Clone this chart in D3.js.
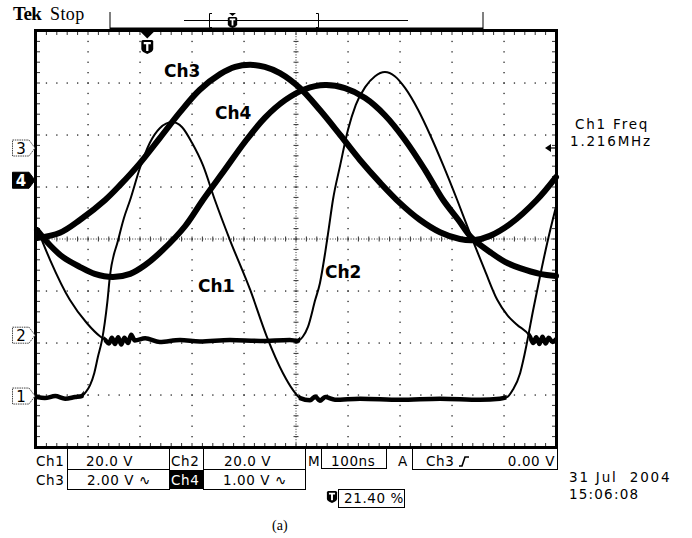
<!DOCTYPE html>
<html>
<head>
<meta charset="utf-8">
<script src="https://cdn.jsdelivr.net/npm/d3@7"></script>
<style>
    body { margin: 0; background: #fff; }
    svg text { font-family: 'DejaVu Sans', sans-serif; fill: #000; }
</style>
</head>
<body>
<svg id="scope"></svg>
<script>

/*
*   Screen settings (time in ns, level in screen divisions)
*/

const TIME_PER_DIV = 100
const H_DIVS = 10
const V_DIVS = 8
const TRIGGER_PERCENT = 21.40

/*
*   Traces: [time ns, level div]
*/

const CH1_TRACE = [
    [2, -3.04], [17, -3.06], [37, -3.02], [56, -3.07], [75, -3.04], [88, -3.02],
    [96, -2.94], [104, -2.81], [112, -2.58], [119, -2.27], [127, -1.94], [137, -1.23], [142, -0.73],
    [158, -0.02], [169, 0.40], [181, 0.75], [200, 1.37], [219, 1.85], [238, 2.13], [262, 2.25],
    [281, 2.15], [300, 1.85], [321, 1.42], [344, 0.75], [373, -0.02], [412, -0.98], [444, -1.88],
    [475, -2.58], [494, -2.90], [508, -3.06],
    [527, -3.10], [537, -3.03], [546, -3.11], [556, -3.04], [575, -3.09], [623, -3.07], [700, -3.09],
    [777, -3.07], [854, -3.09], [892, -3.07],
    [906, -3.04], [917, -2.90], [931, -2.58], [938, -2.29], [944, -2.00], [956, -1.37], [969, -0.73],
    [983, -0.08], [1000, 0.62],
]

const CH2_TRACE = [
    [2, 0.21], [27, -0.40], [65, -1.17], [98, -1.62], [123, -1.87], [133, -1.94],
    [140, -2.01], [146, -1.90], [152, -2.02], [158, -1.89], [164, -2.03], [170, -1.90], [177, -2.00],
    [183, -1.84], [190, -1.95], [210, -1.91], [238, -1.98], [277, -1.94], [315, -1.97], [373, -1.94],
    [431, -1.96], [488, -1.94], [502, -1.96],
    [513, -1.88], [523, -1.69], [537, -1.17], [546, -0.85], [556, -0.27], [563, 0.20], [571, 0.75],
    [585, 1.42], [600, 2.10], [615, 2.58], [633, 2.92], [652, 3.13], [671, 3.21], [690, 3.13],
    [710, 2.90], [735, 2.48], [758, 2.00], [783, 1.42], [810, 0.75], [838, 0.02], [863, -0.60],
    [887, -1.17], [906, -1.46], [925, -1.65], [950, -1.88],
    [956, -2.00], [962, -1.89], [968, -2.02], [974, -1.88], [980, -2.01], [986, -1.90], [993, -1.98],
    [1000, -1.93],
]

const CH3_TRACE = [
    [2, 0.02], [46, 0.12], [85, 0.37], [133, 0.75], [162, 1.04], [200, 1.46], [238, 1.94],
    [277, 2.44], [315, 2.87], [354, 3.17], [383, 3.31], [412, 3.35], [440, 3.31], [469, 3.19],
    [508, 2.90], [546, 2.48], [585, 2.00], [623, 1.52], [662, 1.08], [700, 0.69], [738, 0.37],
    [777, 0.13], [815, 0.00], [844, -0.02], [873, 0.06], [912, 0.29], [963, 0.75], [1000, 1.19],
]

const CH4_TRACE = [
    [2, 0.17], [27, -0.12], [52, -0.35], [85, -0.54], [113, -0.67], [148, -0.73], [181, -0.67],
    [210, -0.50], [244, -0.21], [287, 0.25], [321, 0.75], [363, 1.33], [402, 1.87], [440, 2.33],
    [479, 2.67], [517, 2.88], [556, 2.96], [594, 2.90], [633, 2.71], [671, 2.38], [710, 1.90],
    [748, 1.33], [783, 0.75], [812, 0.37], [838, 0.02], [873, -0.25], [902, -0.44], [931, -0.56],
    [969, -0.67], [1000, -0.71],
]

/*
*   Noisy flat stretches of the thin traces, [from ns, to ns]
*/

const CH1_FLAT = [[0, 92], [505, 905]]
const CH2_FLAT = [[130, 508], [948, 1000]]

/*
*   Channel ground markers (div) and labels
*/

const GROUND_LABELS = ['1', '2', '3', '4']
const GROUND_DIV = [-3.02, -1.85, 1.75, 1.13]
const TRACE_LABELS = ['Ch1', 'Ch2', 'Ch3', 'Ch4']

/*
*   Readout texts
*/

const SCALE_TEXT = ['20.0 V', '20.0 V', '2.00 V \u223F', '1.00 V \u223F']
const TIMEBASE_TEXT = '100ns'
const TRIGGER_TEXT = ['Ch3', '0.00 V']
const FREQ_TEXT = ['Ch1 Freq', '1.216MHz']
const DATE_TEXT = ['31 Jul  2004', '15:06:08']
const CAPTION = '(a)'


/*
*   Constants
*/

const WIDTH = 692
const HEIGHT = 538
const LEFT = 36
const RIGHT = 556
const TOP = 31
const BOTTOM = 447

const svg = d3.select('#scope')
    .attr('width', WIDTH)
    .attr('height', HEIGHT)
    .style('display', 'block')

const x = d3.scaleLinear().domain([0, H_DIVS * TIME_PER_DIV]).range([LEFT, RIGHT])
const y = d3.scaleLinear().domain([-V_DIVS / 2, V_DIVS / 2]).range([BOTTOM, TOP])
const sub = TIME_PER_DIV / 5


/*
*   Graticule: dotted division lines, dense centre cross, edge ticks
*/

const drawGrid = () => {
    const g = svg.append('g').attr('fill', '#222')
    const vSteps = d3.range(-V_DIVS * 5 / 2 + 1, V_DIVS * 5 / 2).map(k => k / 5)
    const hSteps = d3.range(1, H_DIVS * 5).map(k => k * sub)

    d3.range(1, H_DIVS).filter(i => i !== H_DIVS / 2).forEach(i => {
        g.selectAll(null).data(vSteps).enter().append('rect')
            .attr('x', x(i * TIME_PER_DIV) - 0.6).attr('y', d => y(d) - 0.6)
            .attr('width', 1.3).attr('height', 1.3)
    })
    d3.range(-V_DIVS / 2 + 1, V_DIVS / 2).filter(j => j !== 0).forEach(j => {
        g.selectAll(null).data(hSteps).enter().append('rect')
            .attr('x', d => x(d) - 0.6).attr('y', y(j) - 0.6)
            .attr('width', 1.3).attr('height', 1.3)
    })

    const c = svg.append('g').attr('stroke', '#333').attr('stroke-width', 1)
    c.append('line')
        .attr('x1', LEFT).attr('x2', RIGHT).attr('y1', y(0)).attr('y2', y(0))
        .attr('stroke-dasharray', '1,1.6')
    c.append('line')
        .attr('x1', x(500)).attr('x2', x(500)).attr('y1', TOP).attr('y2', BOTTOM)
        .attr('stroke-dasharray', '1,1.6')
    c.selectAll(null).data(hSteps).enter().append('line')
        .attr('x1', d => x(d)).attr('x2', d => x(d))
        .attr('y1', y(0) - 2.5).attr('y2', y(0) + 2.5)
    c.selectAll(null).data(vSteps).enter().append('line')
        .attr('x1', x(500) - 2.5).attr('x2', x(500) + 2.5)
        .attr('y1', d => y(d)).attr('y2', d => y(d))

    // edge ticks
    c.selectAll(null).data(hSteps).enter().append('line')
        .attr('x1', d => x(d)).attr('x2', d => x(d)).attr('y1', TOP).attr('y2', TOP + 4)
    c.selectAll(null).data(hSteps).enter().append('line')
        .attr('x1', d => x(d)).attr('x2', d => x(d)).attr('y1', BOTTOM - 4).attr('y2', BOTTOM)
    c.selectAll(null).data(vSteps).enter().append('line')
        .attr('x1', LEFT).attr('x2', LEFT + 4).attr('y1', d => y(d)).attr('y2', d => y(d))
    c.selectAll(null).data(vSteps).enter().append('line')
        .attr('x1', RIGHT - 4).attr('x2', RIGHT).attr('y1', d => y(d)).attr('y2', d => y(d))
}


/*
*   Traces
*/

const smooth = d3.line()
    .x(d => x(d[0]))
    .y(d => y(d[1]))
    .curve(d3.curveCatmullRom.alpha(0.5))

const jagged = d3.line()
    .x(d => x(d[0]))
    .y(d => y(d[1]))
    .curve(d3.curveMonotoneX)

const drawTraces = () => {
    const g = svg.append('g')
        .attr('fill', 'none').attr('stroke', '#000')
        .attr('stroke-linejoin', 'round').attr('stroke-linecap', 'round')

    g.append('path').attr('d', smooth(CH3_TRACE)).attr('stroke-width', 6)
    g.append('path').attr('d', smooth(CH4_TRACE)).attr('stroke-width', 6)

    const thin = [[CH1_TRACE, CH1_FLAT, 'flat1'], [CH2_TRACE, CH2_FLAT, 'flat2']]
    thin.forEach(([trace, flats, id]) => {
        g.append('path').attr('d', jagged(trace)).attr('stroke-width', 2)
        const clip = svg.append('clipPath').attr('id', id)
        flats.forEach(f => clip.append('rect')
            .attr('x', x(f[0])).attr('width', x(f[1]) - x(f[0]))
            .attr('y', TOP).attr('height', BOTTOM - TOP))
        g.append('path').attr('d', jagged(trace)).attr('stroke-width', 4.5)
            .attr('clip-path', `url(#${id})`)
    })

    const lbl = svg.append('g').attr('font-size', 17).attr('font-weight', 'bold')
    const spots = [[198, 292], [325, 278], [164, 77], [215, 119]]
    TRACE_LABELS.forEach((t, i) => lbl.append('text')
        .attr('x', spots[i][0]).attr('y', spots[i][1]).text(t))
}


/*
*   Frame, header and markers
*/

const tIcon = (g, cx, top, h) => {
    const w = h * 0.85
    g.append('path')
        .attr('d', `M${cx - w / 2},${top + 1.5} Q${cx - w / 2},${top} ${cx - w / 2 + 1.5},${top}
            H${cx + w / 2 - 1.5} Q${cx + w / 2},${top} ${cx + w / 2},${top + 1.5}
            V${top + h * 0.65} Q${cx + w / 2},${top + h * 0.85} ${cx},${top + h}
            Q${cx - w / 2},${top + h * 0.85} ${cx - w / 2},${top + h * 0.65} Z`)
        .attr('fill', '#000')
    g.append('path')
        .attr('d', `M${cx - w * 0.3},${top + h * 0.22} H${cx + w * 0.3} M${cx},${top + h * 0.22} V${top + h * 0.78}`)
        .attr('stroke', '#fff').attr('stroke-width', h * 0.16).attr('fill', 'none')
}

const drawFrame = () => {
    const g = svg.append('g')
    g.append('rect')
        .attr('x', LEFT - 0.5).attr('y', TOP - 0.5)
        .attr('width', RIGHT - LEFT + 1).attr('height', BOTTOM - TOP + 1)
        .attr('fill', 'none').attr('stroke', '#000').attr('stroke-width', 3)

    // header
    g.append('text').attr('x', 13).attr('y', 20)
        .style('font-family', "'Liberation Serif', serif")
        .attr('font-size', 19).attr('font-weight', 'bold').attr('letter-spacing', -0.5).text('Tek')
    g.append('text').attr('x', 50).attr('y', 20)
        .style('font-family', "'Liberation Serif', serif")
        .attr('font-size', 18).attr('letter-spacing', 0.4).text('Stop')

    const k = g.append('g').attr('stroke', '#000').attr('fill', 'none')
    k.append('line').attr('x1', 110).attr('x2', 110).attr('y1', 12).attr('y2', 30)
    k.append('line').attr('x1', 483).attr('x2', 483).attr('y1', 12).attr('y2', 30)
    g.append('rect').attr('x', 110).attr('y', 27.5).attr('width', 373).attr('height', 3).attr('fill', '#000')
    k.append('line').attr('x1', 184).attr('x2', 408).attr('y1', 20.5).attr('y2', 20.5)
    k.append('path').attr('d', 'M212,13.5 H209.5 V27.5 H212')
    k.append('path').attr('d', 'M316,13.5 H318.5 V27.5 H316')
    g.append('path').attr('d', 'M229,13 H236 L232.5,16 Z').attr('fill', '#000')
    tIcon(g, 232.5, 17, 11)

    // trigger position
    const tx = x(TRIGGER_PERCENT / 100 * H_DIVS * TIME_PER_DIV)
    g.append('path').attr('d', `M${tx - 6.5},32 H${tx + 6.5} L${tx},38.5 Z`).attr('fill', '#000')
    tIcon(g, tx, 40, 14)

    // ground markers
    const m = g.append('g')
    GROUND_LABELS.forEach((lab, i) => {
        const yy = y(GROUND_DIV[i])
        const solid = lab === '4'
        m.append('path')
            .attr('d', `M12.5,${yy - 8} H29 L35,${yy} L29,${yy + 8} H12.5 Z`)
            .attr('fill', solid ? '#000' : '#fff')
            .attr('stroke', solid ? '#000' : '#444').attr('stroke-width', 1)
            .attr('stroke-dasharray', solid ? null : '1.5,0.8')
        m.append('text').attr('x', 21).attr('y', yy + 5.5)
            .attr('text-anchor', 'middle').attr('font-size', 15)
            .style('fill', solid ? '#fff' : '#000')
            .attr('font-weight', solid ? 'bold' : 'normal').text(lab)
    })

    // trigger level on the right
    const ty = y(GROUND_DIV[2])
    g.append('path').attr('d', `M545,${ty} L551,${ty - 4} V${ty + 4} Z`).attr('fill', '#000')
    g.append('line').attr('x1', 550).attr('x2', 556).attr('y1', ty).attr('y2', ty)
        .attr('stroke', '#000').attr('stroke-width', 1.2)
}


/*
*   Readouts under and beside the screen
*/

const drawReadout = () => {
    svg.append('rect').attr('x', 170).attr('y', 470).attr('width', 33).attr('height', 19).attr('fill', '#000')

    const g = svg.append('g').attr('font-size', 13.5).attr('letter-spacing', 0.6)
    const b = svg.append('g').attr('fill', 'none').attr('stroke', '#000').attr('stroke-width', 1)
    const box = (x0, y0, x1, y1) => b.append('rect')
        .attr('x', x0 + 0.5).attr('y', y0 + 0.5).attr('width', x1 - x0).attr('height', y1 - y0)
    const txt = (xx, yy, t, anchor) => g.append('text').attr('x', xx).attr('y', yy)
        .attr('text-anchor', anchor || 'start').text(t)

    const r1 = 466, r2 = 485
    box(67, 448, 169, 469)
    box(67, 469, 169, 489)
    box(203, 448, 305, 469)
    box(203, 469, 305, 489)
    box(321, 448, 386, 468)
    box(412, 448, 557, 469)
    box(338, 489, 404, 507)

    txt(36, r1, TRACE_LABELS[0])
    txt(86, r1, SCALE_TEXT[0])
    txt(171, r1, TRACE_LABELS[1])
    txt(224, r1, SCALE_TEXT[1])
    txt(36, r2, TRACE_LABELS[2])
    txt(87, r2, SCALE_TEXT[2])
    txt(171, r2, TRACE_LABELS[3]).style('fill', '#fff')
    txt(223, r2, SCALE_TEXT[3])

    txt(308, r1, 'M')
    txt(331, r1, TIMEBASE_TEXT)
    txt(398, r1, 'A')
    txt(426, r1, TRIGGER_TEXT[0])
    b.append('path').attr('d', `M459,${r1} H462 L465,${r1 - 9} H469`).attr('stroke-width', 1.6)
    txt(555, r1, TRIGGER_TEXT[1], 'end')

    tIcon(svg.append('g'), 332, 491, 12)
    txt(344, 503, `${TRIGGER_PERCENT.toFixed(2)} %`)

    txt(575, 129, FREQ_TEXT[0]).attr('letter-spacing', 1.8)
    txt(570, 146, FREQ_TEXT[1]).attr('letter-spacing', 1.8)
    txt(569, 482, DATE_TEXT[0]).style('white-space', 'pre').attr('letter-spacing', 1.8)
    txt(569, 499, DATE_TEXT[1]).attr('letter-spacing', 1.2)

    svg.append('text').attr('x', 272).attr('y', 530)
        .style('font-family', "'Liberation Serif', serif").attr('font-size', 14).text(CAPTION)
}


/*
*   Execution entry point.
*/

drawGrid()
drawTraces()
drawFrame()
drawReadout()

</script>
</body>
</html>
